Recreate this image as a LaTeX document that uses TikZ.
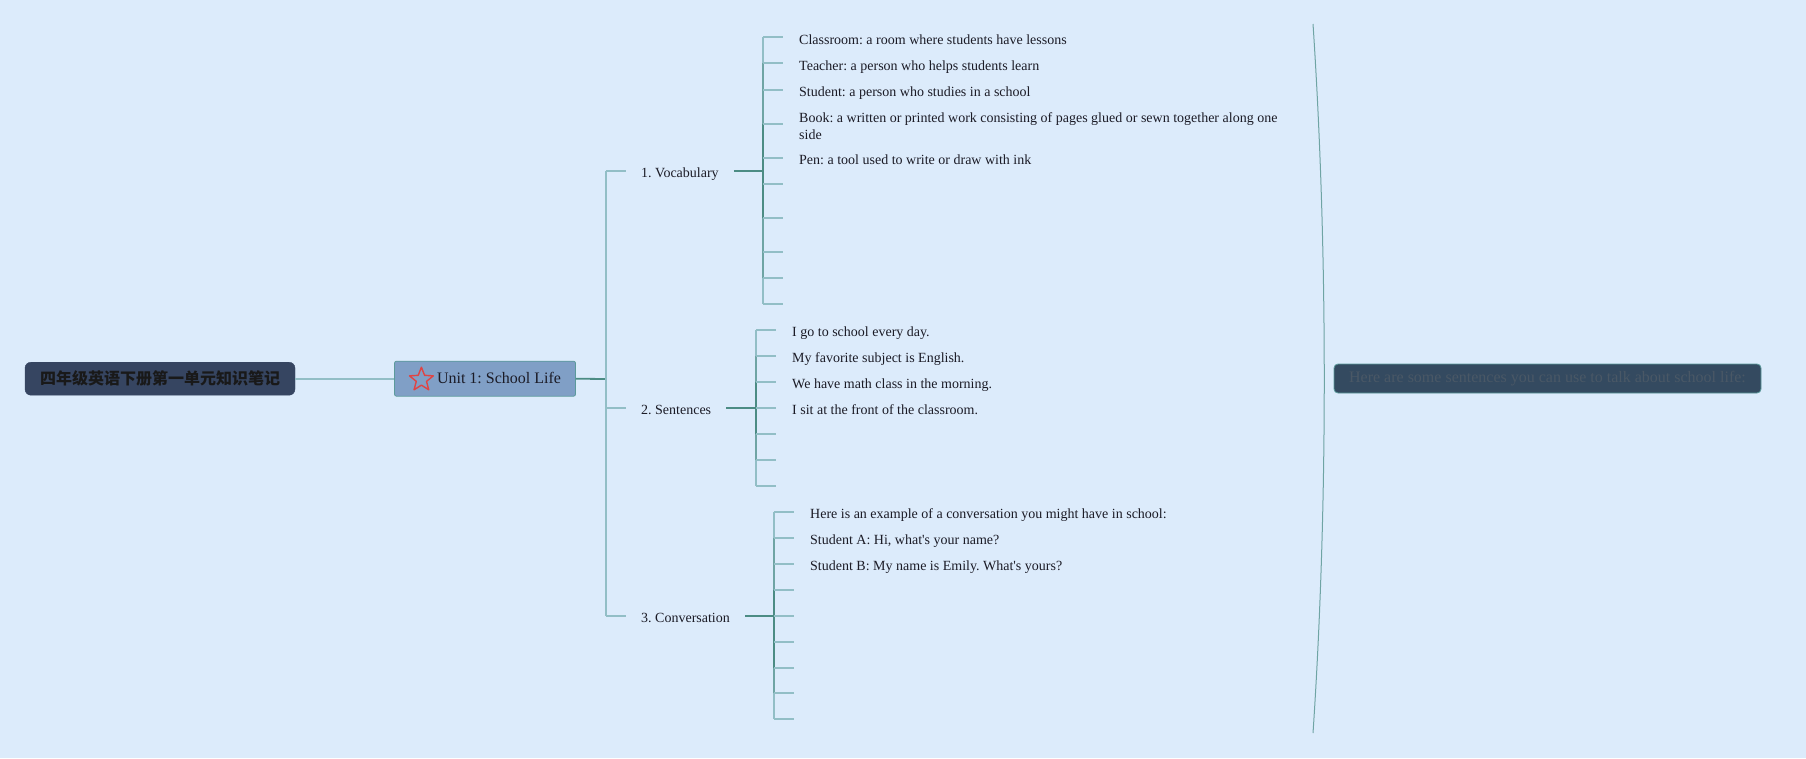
\documentclass[tikz,border=0pt]{standalone}
\usepackage{fontspec}
\usetikzlibrary{calc}
\setmainfont{Liberation Serif}
\newfontfamily\cjk{Noto Sans CJK SC}
\frenchspacing
\definecolor{bgc}{HTML}{DCEBFB}
\definecolor{rootfill}{HTML}{364561}
\definecolor{unitfill}{HTML}{809FC6}
\definecolor{unitdraw}{HTML}{5B9A9B}
\definecolor{sumfill}{HTML}{344A60}
\definecolor{sumtext}{HTML}{4A5866}
\definecolor{lightln}{HTML}{92BEC6}
\definecolor{midln}{HTML}{6FA4A4}
\definecolor{darkln}{HTML}{4C8C84}
\definecolor{txt}{HTML}{1B1B26}
\definecolor{starred}{HTML}{E04444}
\tikzset{
  x=1pt, y=-1pt,
  lightc/.style={draw=lightln, line width=1.8pt},
  midc/.style={draw=midln, line width=1.8pt},
  darkc/.style={draw=darkln, line width=1.8pt},
  cat/.style={anchor=west, inner xsep=15pt, inner ysep=0pt, text height=13.2pt, text depth=0pt, text=txt, font=\fontsize{14}{17}\selectfont},
  leaf/.style={anchor=west, inner xsep=16pt, inner ysep=0pt, text height=13.4pt, text depth=0pt, text=txt, font=\fontsize{14}{17}\selectfont},
}
\begin{document}
\begin{tikzpicture}
\fill[bgc] (0,0) rectangle (1806,758);
\useasboundingbox (0,0) rectangle (1806,758);

% root and main
\node[fill=rootfill, draw=rootfill, rounded corners=6pt, minimum width=270pt, minimum height=33pt, inner sep=0pt, text=black!90, font=\cjk\bfseries\fontsize{16}{19}\selectfont] (root) at (160,378.7) {四年级英语下册第一单元知识笔记};
\node[fill=unitfill, draw=unitdraw, line width=0.8pt, rounded corners=2pt, minimum width=181pt, minimum height=35pt, inner sep=0pt, text=txt, font=\fontsize{16}{19}\selectfont] (unit) at (485,378.7) {\hspace{28pt}\raisebox{2pt}{Unit 1: School Life}};
\coordinate (starc) at ($(unit.west)+(27.3,1)$);
\draw[starred, line width=1.4pt, line join=round]
  ($(starc)+(-90:12.5)$)
  \foreach \k in {0,...,4} { -- ($(starc)+({-54+72*\k}:5.4)$) -- ($(starc)+({-18+72*\k}:12.5)$) } -- cycle;

\draw[lightc] (root.east) -- (unit.west);

% categories
\node[cat] (voc) at (626,171) {1. Vocabulary};
\node[cat] (sen) at (626,408) {2. Sentences};
\node[cat] (con) at (626,616) {3. Conversation};
\coordinate (mbar) at (606,379);
\draw[darkc] (unit.east) -- (mbar);
\draw[lightc] (mbar |- voc.west) -- (mbar |- con.west);
\foreach \c in {voc,sen,con} \draw[lightc] (mbar |- \c.west) -- (\c.west);

% vocabulary leaves
\coordinate (vbar) at (763,171);
\node[leaf] (v1) at (783,37.3) {Classroom: a room where students have lessons};
\node[leaf] (v2) at (783,63.3) {Teacher: a person who helps students learn};
\node[leaf] (v3) at (783,90) {Student: a person who studies in a school};
\node[leaf, text depth=17pt] (v4) at (783,124) {\vtop{\hbox{Book: a written or printed work consisting of pages glued or sewn together along one}\hbox{side}}};
\node[leaf] (v5) at (783,157.7) {Pen: a tool used to write or draw with ink};
\coordinate (v6) at (783,183.7);
\coordinate (v7) at (783,217.7);
\coordinate (v8) at (783,251.7);
\coordinate (v9) at (783,277.7);
\coordinate (v10) at (783,303.7);
\draw[lightc] (vbar |- v1.west) -- (vbar |- v10);
\draw[midc] (vbar |- v2.west) -- (vbar |- v9);
\draw[darkc] (vbar |- v4.west) -- (vbar |- v7);
\foreach \n in {v1,v2,v3,v4,v5} \draw[lightc] (vbar |- \n.west) -- (\n.west);
\foreach \n in {v6,v7,v8,v9,v10} \draw[lightc] (vbar |- \n) -- (\n);
\draw[darkc] (voc.east) -- (vbar);

% sentences leaves
\coordinate (sbar) at (756,408);
\node[leaf] (s1) at (776,330) {I go to school every day.};
\node[leaf] (s2) at (776,355.7) {My favorite subject is English.};
\node[leaf] (s3) at (776,381.7) {We have math class in the morning.};
\node[leaf] (s4) at (776,408) {I sit at the front of the classroom.};
\coordinate (s5) at (776,434);
\coordinate (s6) at (776,460);
\coordinate (s7) at (776,485.7);
\draw[lightc] (sbar |- s1.west) -- (sbar |- s7);
\draw[midc] (sbar |- s2.west) -- (sbar |- s6);
\draw[darkc] (sbar |- s3.west) -- (sbar |- s5);
\foreach \n in {s1,s2,s3,s4} \draw[lightc] (sbar |- \n.west) -- (\n.west);
\foreach \n in {s5,s6,s7} \draw[lightc] (sbar |- \n) -- (\n);
\draw[darkc] (sen.east) -- (sbar);

% conversation leaves
\coordinate (cbar) at (774,616);
\node[leaf] (c1) at (794,512) {Here is an example of a conversation you might have in school:};
\node[leaf] (c2) at (794,537.7) {Student A: Hi, what\textquotesingle s your name?};
\node[leaf] (c3) at (794,563.7) {Student B: My name is Emily. What\textquotesingle s yours?};
\coordinate (c4) at (794,589.7);
\coordinate (c5) at (794,616);
\coordinate (c6) at (794,641.7);
\coordinate (c7) at (794,667.7);
\coordinate (c8) at (794,693.3);
\coordinate (c9) at (794,719.3);
\draw[lightc] (cbar |- c1.west) -- (cbar |- c9);
\draw[midc] (cbar |- c2.west) -- (cbar |- c8);
\draw[darkc] (cbar |- c4) -- (cbar |- c7);
\foreach \n in {c1,c2,c3} \draw[lightc] (cbar |- \n.west) -- (\n.west);
\foreach \n in {c4,c5,c6,c7,c8,c9} \draw[lightc] (cbar |- \n) -- (\n);
\draw[darkc] (con.east) -- (cbar);

% summary brace and box
\coordinate (bt) at (1313,24);
\coordinate (bb) at (1313,733);
\draw[draw=midln, line width=1pt] (bt) .. controls (1328,250) and (1328,508) .. (bb);
\node[fill=sumfill, draw=unitdraw, line width=0.8pt, rounded corners=4pt, minimum width=427pt, minimum height=29pt, inner sep=0pt, text=sumtext, font=\fontsize{16}{19}\selectfont] (sum) at (1547.5,378.5) {Here are some sentences you can use to talk about school life:};
\end{tikzpicture}
\end{document}
